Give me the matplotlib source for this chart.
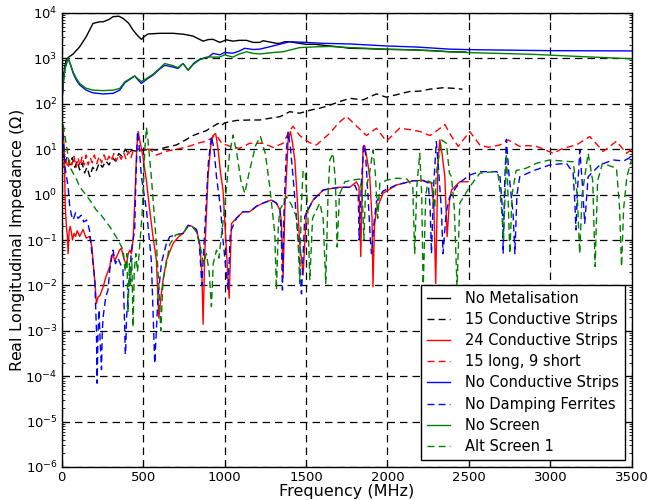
import numpy as np
import matplotlib
matplotlib.use("Agg")
import matplotlib.pyplot as plt
from matplotlib.ticker import LogLocator, NullFormatter, LogFormatterMathtext, FixedLocator

plt.rcParams['font.family'] = ['DejaVu Sans']
plt.rcParams['axes.unicode_minus'] = False
plt.rcParams['mathtext.default'] = 'regular'

# ---------------- data (frequency MHz, real impedance Ohm) ----------------
f_nomet = [0, 10, 25, 40, 70, 110, 150, 192, 233, 254, 290, 315, 350, 377, 410, 438, 465, 489, 510, 530,
           602, 684, 750, 806, 868, 900, 929, 970, 1011, 1052, 1090, 1134, 1175, 1216, 1236, 1277, 1318,
           1339, 1370, 1400, 1440, 1502, 1550, 1646, 1700, 1768, 1850, 1993, 2100, 2178, 2280, 2382, 2480]
z_nomet = [100, 400, 900, 1050, 1250, 1800, 3000, 5900, 6400, 6400, 7200, 8300, 8500, 7600, 6000, 4200,
           3200, 2630, 3100, 3450, 3570, 3570, 3400, 3100, 2400, 2600, 2630, 2250, 2560, 2400, 2500, 2500,
           2250, 2250, 2450, 2300, 2150, 2150, 2330, 2330, 2200, 2040, 2050, 1880, 1800, 1670, 1650, 1580,
           1560, 1530, 1480, 1400, 1380]

f_15cs = [5, 20, 35, 50, 65, 80, 95, 110, 125, 140, 155, 172, 190, 210, 230, 250, 270, 290, 310, 330, 350,
          370, 390, 410, 430, 460, 500, 540, 581, 640, 704, 760, 806, 850, 888, 930, 960, 980, 1000, 1072,
          1154, 1216, 1277, 1340, 1400, 1461, 1523, 1584, 1646, 1700, 1768, 1850, 1932, 1993, 2060, 2137,
          2198, 2260, 2341, 2400, 2460]
z_15cs = [9, 5, 7, 4.5, 6.5, 4, 5.5, 3.5, 5, 3, 4, 2.5, 4, 3.2, 5, 4, 5.5, 4.5, 6.5, 5.5, 8, 7, 10, 8, 9.5,
          9, 9.5, 10, 9.6, 11, 12.4, 16, 20, 23, 25.6, 32, 37, 33, 38, 43, 44, 44, 48, 52, 67, 62, 72, 80,
          93, 110, 132, 122, 165, 140, 160, 187, 190, 210, 226, 220, 210]

f_24cs = [0, 8, 15, 22, 29, 35, 39, 45, 52, 59, 66, 75, 85, 95, 110, 131, 150, 172, 185, 192, 205, 213, 223,
          235, 254, 270, 295, 305, 315, 325, 340, 355, 366, 380, 397, 408, 418, 428, 438, 450, 460, 469, 480,
          499, 520, 540, 560, 581, 596, 610, 622, 643, 684, 720, 745, 776, 800, 827, 847, 860, 868, 878, 898,
          915, 929, 945, 960, 975, 990, 1011, 1028, 1042, 1072, 1113, 1154, 1195, 1236, 1287, 1318, 1340,
          1349, 1359, 1370, 1390, 1404, 1415, 1431, 1446, 1461, 1482, 1502, 1543, 1605, 1650, 1707, 1768,
          1809, 1825, 1836, 1850, 1860, 1875, 1891, 1905, 1911, 1920, 1932, 1973, 2055, 2157, 2218, 2270,
          2285, 2296, 2310, 2321, 2335, 2352, 2366, 2380, 2393, 2444, 2495]
z_24cs = [45, 30, 10, 0.5, 0.19, 0.12, 0.05, 0.15, 0.2, 0.15, 0.1, 0.14, 0.12, 0.16, 0.12, 0.17, 0.11, 0.12,
          0.07, 0.036, 0.01, 0.004, 0.0055, 0.006, 0.0093, 0.015, 0.026, 0.045, 0.05, 0.035, 0.045, 0.06,
          0.066, 0.04, 0.028, 0.05, 0.06, 0.05, 0.1, 1.0, 10, 24.5, 15, 6.8, 2, 0.46, 0.12, 0.036, 0.0019,
          0.006, 0.013, 0.036, 0.085, 0.12, 0.14, 0.21, 0.2, 0.17, 0.085, 0.02, 0.0014, 0.05, 2.5, 12, 20,
          22, 10, 3, 1.26, 0.06, 0.0052, 0.23, 0.3, 0.42, 0.42, 0.55, 0.65, 0.76, 0.65, 0.45, 0.25, 0.015,
          0.5, 16, 24.5, 15, 5.8, 0.8, 0.085, 0.017, 0.39, 0.76, 1.26, 1.35, 1.45, 1.45, 1.9, 1.5, 0.043,
          11.4, 12, 6, 2.48, 0.3, 0.0093, 0.2, 0.46, 1.07, 1.63, 2.02, 2.05, 1.78, 0.5, 0.011, 5, 16, 8,
          2.48, 0.118, 0.7, 1.26, 1.92, 1.92]

f_15l9s = [0, 12, 25, 38, 50, 62, 75, 88, 100, 112, 125, 138, 150, 162, 175, 188, 200, 215, 230, 245, 260,
           275, 290, 305, 320, 335, 350, 365, 380, 395, 410, 425, 440, 460, 490, 520, 540, 581, 640, 704,
           760, 806, 850, 888, 915, 939, 960, 985, 1011, 1050, 1093, 1154, 1195, 1236, 1297, 1359, 1390,
           1420, 1461, 1520, 1564, 1646, 1700, 1748, 1800, 1871, 1932, 1993, 2075, 2137, 2200, 2260, 2300,
           2352, 2390, 2434, 2505, 2567, 2620, 2690, 2741, 2812, 2860, 2915, 2960, 3017, 3078, 3160, 3242,
           3324, 3406, 3467, 3500]
z_15l9s = [7, 4, 6.5, 3.8, 6, 4.5, 7, 4, 6.5, 4.2, 7, 4.5, 7.5, 4.5, 6.5, 5, 7.5, 4.8, 7, 5, 7.5, 5.2, 7,
           5.5, 8, 5.5, 7.5, 6, 8.5, 6, 9, 6.5, 9.5, 10.5, 9.5, 10, 10, 7.4, 9, 10, 11, 12.4, 14, 15, 17,
           20.4, 18, 13, 12.4, 11, 10.5, 13.5, 13.5, 13.5, 11, 13.5, 22, 32, 20, 14, 12.4, 22.5, 38, 53, 35,
           20, 29, 15, 29, 27, 24.5, 20, 25, 35, 20, 11.5, 24.5, 12.4, 11, 12.4, 16, 11.5, 12, 11.5, 10,
           8.1, 10.5, 12.4, 19, 8.9, 15, 8.1, 10]

f_nocs = [0, 10, 20, 39, 55, 70, 90, 110, 150, 192, 254, 315, 356, 387, 420, 448, 470, 489, 520, 561, 600,
          632, 680, 714, 745, 776, 810, 847, 898, 929, 970, 1000, 1050, 1090, 1124, 1175, 1216, 1297, 1350,
          1400, 1502, 1600, 1768, 1993, 2178, 2382, 2500, 2996, 3500]
z_nocs = [100, 300, 600, 1000, 700, 470, 330, 260, 200, 174, 165, 170, 200, 290, 350, 410, 330, 280, 345,
          430, 580, 705, 650, 600, 770, 550, 780, 960, 1050, 1290, 1200, 1350, 1300, 1450, 1670, 1570, 1600,
          1880, 2100, 2330, 2250, 2150, 2080, 1880, 1780, 1600, 1560, 1480, 1460]

f_nodf = [0, 8, 20, 39, 49, 60, 70, 85, 100, 120, 135, 152, 165, 172, 182, 203, 213, 217, 223, 229, 236,
          244, 249, 254, 270, 284, 295, 315, 330, 345, 360, 376, 387, 390, 393, 398, 407, 428, 448, 455, 465,
          475, 489, 520, 550, 571, 591, 612, 643, 663, 700, 745, 776, 800, 827, 845, 860, 875, 900, 919, 935,
          950, 975, 990, 1005, 1021, 1035, 1072, 1113, 1154, 1195, 1236, 1287, 1318, 1340, 1349, 1355, 1365,
          1380, 1390, 1405, 1420, 1451, 1472, 1492, 1543, 1605, 1650, 1707, 1768, 1800, 1820, 1826, 1840,
          1855, 1865, 1880, 1895, 1902, 1915, 1932, 1973, 2055, 2157, 2218, 2250, 2262, 2270, 2285, 2300,
          2315, 2331, 2341, 2360, 2382, 2440, 2505, 2567, 2670, 2690, 2706, 2710, 2720, 2730, 2745, 2771,
          2782, 2795, 2812, 2900, 2996, 3099, 3140, 3152, 3157, 3165, 3181, 3195, 3211, 3232, 3304, 3385,
          3450, 3498]
z_nodf = [40, 19, 4, 1.49, 0.54, 0.35, 0.275, 0.4, 0.3, 0.35, 0.25, 0.275, 0.2, 0.15, 0.066, 0.013, 0.001,
          7e-5, 0.001, 0.0029, 0.0006, 1.4e-4, 0.001, 0.002, 0.0056, 0.0079, 0.022, 0.06, 0.03, 0.04, 0.03,
          0.022, 0.001, 0.0003, 0.0004, 0.002, 0.0056, 0.06, 0.17, 2, 24.5, 12, 2.48, 0.46, 0.036, 1.9e-4,
          0.0056, 0.031, 0.085, 0.118, 0.13, 0.14, 0.21, 0.2, 0.17, 0.08, 0.01, 0.1, 5, 19, 10, 2.48, 0.5,
          0.1, 0.03, 0.0079, 0.15, 0.3, 0.42, 0.42, 0.55, 0.65, 0.76, 0.65, 0.46, 0.1, 0.0079, 0.5, 10,
          24.5, 10, 2.48, 0.118, 0.0065, 0.33, 0.76, 1.26, 1.35, 1.45, 1.45, 1.6, 1.07, 0.1, 2, 12.4, 8, 1,
          0.1, 0.05, 0.2, 0.7, 1.2, 1.63, 2.02, 2.05, 1.8, 0.5, 0.05, 2, 14.7, 3, 0.46, 0.05, 0.4, 0.9,
          1.8, 2.7, 3.2, 3.2, 2.7, 0.46, 0.05, 2, 16.5, 3, 0.39, 0.05, 1, 2.48, 3.4, 4.5, 4.9, 3, 0.5,
          0.166, 1, 9.6, 2, 0.233, 2.48, 4.5, 5.8, 5.5, 6.8]

f_noscr = [0, 10, 20, 39, 55, 70, 90, 110, 150, 192, 254, 315, 356, 387, 420, 448, 470, 489, 520, 561, 600,
           632, 680, 714, 745, 776, 810, 847, 888, 929, 970, 1000, 1050, 1090, 1134, 1175, 1216, 1300, 1359,
           1461, 1560, 1646, 1768, 1993, 2178, 2382, 2505, 2893, 3180, 3500]
z_noscr = [100, 300, 600, 1020, 720, 500, 360, 280, 220, 200, 195, 200, 218, 305, 360, 410, 350, 310, 360,
           450, 600, 770, 700, 625, 770, 550, 750, 930, 1070, 1070, 1070, 1200, 1070, 1250, 1400, 1290, 1250,
           1350, 1400, 1730, 1800, 1830, 1730, 1600, 1530, 1400, 1340, 1230, 1100, 980]

f_alt1 = [0, 15, 29, 49, 90, 110, 172, 213, 233, 295, 346, 377, 390, 400, 407, 415, 422, 430, 438, 445, 455,
          465, 475, 495, 510, 520, 530, 550, 581, 596, 608, 622, 643, 663, 700, 745, 776, 800, 827, 847, 870,
          888, 905, 919, 930, 950, 965, 975, 1000, 1030, 1052, 1075, 1100, 1124, 1150, 1190, 1220, 1250,
          1277, 1308, 1318, 1330, 1339, 1380, 1410, 1440, 1452, 1461, 1470, 1482, 1495, 1510, 1523, 1540,
          1584, 1605, 1621, 1635, 1646, 1666, 1680, 1691, 1705, 1738, 1790, 1830, 1845, 1855, 1865, 1871,
          1890, 1911, 1925, 1940, 1953, 2000, 2055, 2120, 2155, 2167, 2180, 2198, 2210, 2219, 2235, 2250,
          2275, 2290, 2300, 2331, 2362, 2380, 2393, 2410, 2427, 2444, 2505, 2567, 2650, 2680, 2700, 2712,
          2722, 2730, 2740, 2751, 2765, 2790, 2850, 2915, 2996, 3099, 3140, 3165, 3180, 3195, 3232, 3260,
          3275, 3290, 3320, 3406, 3425, 3437, 3450, 3470, 3498]
z_alt1 = [60, 25, 12, 4.1, 2.2, 1.49, 0.76, 0.45, 0.39, 0.196, 0.1, 0.06, 0.02, 0.05, 0.0025, 0.03, 0.01,
          0.04, 0.0012, 0.02, 0.05, 0.02, 0.05, 0.46, 10, 30, 15, 2.48, 0.085, 0.01, 0.001, 0.013, 0.031,
          0.08, 0.13, 0.14, 0.2, 0.2, 0.15, 0.085, 0.03, 0.05, 0.02, 0.0034, 0.03, 0.06, 0.04, 0.085, 0.5,
          8, 20.5, 8, 2, 1.07, 3, 12, 19, 8, 1.49, 0.14, 0.008, 0.2, 0.46, 0.9, 0.6, 0.33, 0.08, 0.011, 0.5,
          3.4, 3, 0.5, 0.013, 0.3, 0.65, 0.3, 0.011, 1, 5.8, 8.1, 2, 0.07, 1, 1.92, 2.1, 2.2, 1, 0.1, 1.2,
          1.49, 3, 9.6, 3, 0.3, 1.78, 2.1, 2.3, 2.2, 1.5, 0.05, 1.5, 8.1, 1, 0.008, 1, 2, 1.8, 0.5, 3, 16,
          13.5, 3, 2.48, 0.5, 0.0093, 0.65, 1.49, 2.95, 3.2, 2.7, 0.5, 0.1, 1, 8, 1, 0.05, 1, 3.4, 3.8, 4.9,
          5.8, 5.4, 5.3, 1, 0.05, 1, 8.1, 2, 0.026, 2, 4.9, 3.8, 0.5, 0.026, 0.5, 2.48, 5.8]

series = [
    ("No Metalisation", f_nomet, z_nomet, 'k', '-'),
    ("15 Conductive Strips", f_15cs, z_15cs, 'k', '--'),
    ("24 Conductive Strips", f_24cs, z_24cs, 'r', '-'),
    ("15 long, 9 short", f_15l9s, z_15l9s, 'r', '--'),
    ("No Conductive Strips", f_nocs, z_nocs, 'b', '-'),
    ("No Damping Ferrites", f_nodf, z_nodf, 'b', '--'),
    ("No Screen", f_noscr, z_noscr, 'g', '-'),
    ("Alt Screen 1", f_alt1, z_alt1, 'g', '--'),
]

x_ticks = [0, 500, 1000, 1500, 2000, 2500, 3000, 3500]
y_ticks = [1e-6, 1e-5, 1e-4, 1e-3, 1e-2, 1e-1, 1e0, 1e1, 1e2, 1e3, 1e4]

fig = plt.figure(figsize=(6.5, 5.0), dpi=100)
ax = fig.add_axes([0.095, 0.066, 0.877, 0.908])

for label, f, z, c, ls in series:
    if ls == '--':
        ax.plot(f, z, color=c, lw=1.0, dashes=(5, 3), label=label)
    else:
        ax.plot(f, z, color=c, lw=1.0, label=label)

ax.set_yscale('log')
ax.set_xlim(0, 3500)
ax.set_ylim(1e-6, 1e4)
ax.xaxis.set_major_locator(FixedLocator(x_ticks))
ax.yaxis.set_major_locator(FixedLocator(y_ticks))
minor_y = [m * 10.0 ** e for e in range(-6, 4) for m in range(2, 10)]
ax.yaxis.set_minor_locator(FixedLocator(minor_y))
ax.yaxis.set_minor_formatter(NullFormatter())
ax.yaxis.set_major_formatter(LogFormatterMathtext())

ax.grid(True, which='major', color='k', linestyle=(0, (6, 4)), lw=0.9)
ax.tick_params(which='both', direction='in', top=True, right=True, labelsize=9.5)
ax.tick_params(which='major', length=5, width=0.8, pad=3)
ax.tick_params(which='minor', length=2.5, width=0.6)
for sp in ax.spines.values():
    sp.set_linewidth(1.0)

ax.set_xlabel("Frequency (MHz)", fontsize=11.5, labelpad=0)
ax.set_ylabel(r"Real Longitudinal Impedance ($\Omega$)", fontsize=11.5, labelpad=-1)

leg = ax.legend(loc='lower right', fontsize=10.5, fancybox=False, framealpha=1, edgecolor='k',
                handlelength=1.6, handletextpad=1.0, labelspacing=0.42, borderpad=0.4)
leg.get_frame().set_linewidth(1.0)

fig.savefig("out.png", dpi=100)
